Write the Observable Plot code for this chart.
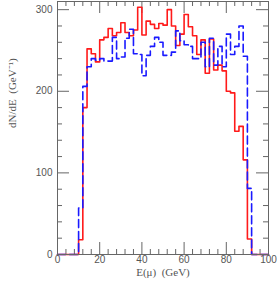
<!DOCTYPE html>
<html>
<head>
<meta charset="utf-8">
<script src="https://cdn.jsdelivr.net/npm/d3@7"></script>
<script src="https://cdn.jsdelivr.net/npm/@observablehq/plot@0.6"></script>
<style>
  html, body { margin: 0; padding: 0; background: #fff; }
</style>
</head>
<body>
<div id="chart"></div>
<script>
// Bin edges: 2 GeV bins from 0 to 100
const binWidth = 2;
const redValues = [
  0, 0, 0, 0, 0,
  18, 180, 252, 246, 236,
  263, 266, 277, 268, 272,
  284, 272, 268, 275, 303,
  269, 286, 282, 277, 283,
  281, 300, 280, 256, 270,
  294, 279, 268, 245, 263,
  222, 264, 226, 232, 225,
  200, 198, 151, 157, 116,
  19, 0, 0, 0, 0
];
const blueValues = [
  0, 0, 0, 0, 0,
  57, 206, 230, 240, 238,
  240, 237, 237, 266, 240,
  242, 265, 276, 246, 245,
  219, 244, 255, 266, 260,
  244, 244, 248, 274, 262,
  257, 255, 240, 240, 260,
  230, 265, 232, 255, 230,
  270, 245, 255, 280, 243,
  81, 0, 0, 0, 0
];
const xMajor = [0, 20, 40, 60, 80, 100];
const xMinor = [4, 8, 12, 16, 24, 28, 32, 36, 44, 48, 52, 56, 64, 68, 72, 76, 84, 88, 92, 96];
const yMajor = [0, 100, 200, 300];
const yMinor = [20, 40, 60, 80, 120, 140, 160, 180, 220, 240, 260, 280];
const xLabel = "E(\u03bc)  (GeV)";
const yLabel = "dN/dE  (GeV\u207b\u00b9)";

function steps(values) {
  const pts = values.map((v, i) => ({x: i * binWidth, y: v}));
  pts.push({x: values.length * binWidth, y: values[values.length - 1]});
  return pts;
}

const W = 277, H = 283;
const mL = 57, mR = 9, mT = 1, mB = 29;
const innerH = H - mT - mB;
const innerW = W - mL - mR;
const major = 12, minor = 5;
const gray = "#666";

const plot = Plot.plot({
  width: W,
  height: H,
  marginLeft: mL,
  marginRight: mR,
  marginTop: mT,
  marginBottom: mB,
  x: {domain: [0, 100], axis: null},
  y: {domain: [0, 310], axis: null},
  style: {background: "#fff"},
  marks: [
    // inward ticks
    Plot.ruleX(xMajor, {x: d => d, insetTop: innerH - major, stroke: gray}),
    Plot.ruleX(xMajor, {x: d => d, insetBottom: innerH - major, stroke: gray}),
    Plot.ruleX(xMinor, {x: d => d, insetTop: innerH - minor, stroke: gray}),
    Plot.ruleX(xMinor, {x: d => d, insetBottom: innerH - minor, stroke: gray}),
    Plot.ruleY(yMajor, {y: d => d, insetRight: innerW - major, stroke: gray}),
    Plot.ruleY(yMajor, {y: d => d, insetLeft: innerW - major, stroke: gray}),
    Plot.ruleY(yMinor, {y: d => d, insetRight: innerW - minor, stroke: gray}),
    Plot.ruleY(yMinor, {y: d => d, insetLeft: innerW - minor, stroke: gray}),
    Plot.line(steps(redValues), {x: "x", y: "y", curve: "step-after", stroke: "#ff1a1a", strokeWidth: 1.6}),
    Plot.line(steps(blueValues), {x: "x", y: "y", curve: "step-after", stroke: "#1a1aff", strokeWidth: 1.6, strokeDasharray: "8,4"}),
    Plot.frame({stroke: gray}),
    // tick labels
    Plot.text(xMajor, {x: d => d, frameAnchor: "bottom", dy: 8.5, text: d => String(d), fontSize: 10, fill: "#555", fontFamily: "Liberation Sans, Arial, sans-serif"}),
    Plot.text(yMajor, {y: d => d, frameAnchor: "left", dx: -5, textAnchor: "end", text: d => String(d), fontSize: 10, fill: "#555", fontFamily: "Liberation Sans, Arial, sans-serif"}),
    // axis labels
    Plot.text([xLabel], {frameAnchor: "bottom", dy: 21.5, text: d => d, fontSize: 11, fill: "#555", fontFamily: "Liberation Serif, Times New Roman, serif"}),
    Plot.text([yLabel], {frameAnchor: "left", dx: -45, rotate: -90, text: d => d, fontSize: 11, fill: "#555", fontFamily: "Liberation Serif, Times New Roman, serif"})
  ]
});
document.getElementById("chart").appendChild(plot);
</script>
</body>
</html>
